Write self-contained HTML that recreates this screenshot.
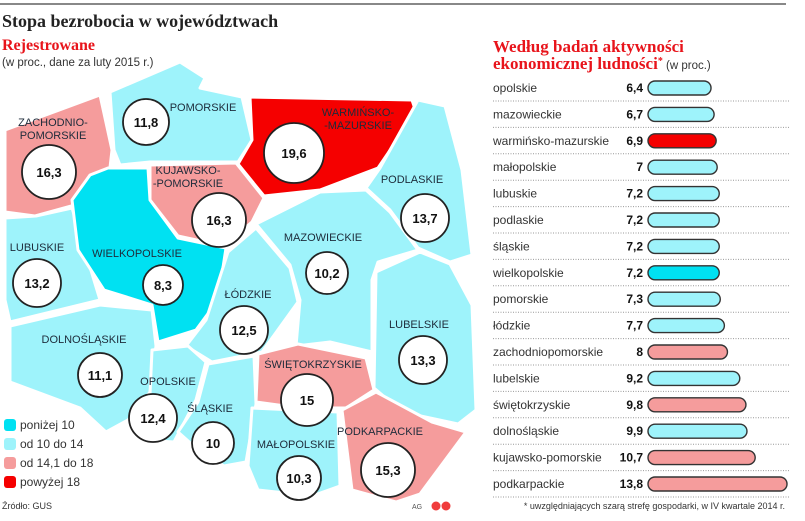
<!DOCTYPE html>
<html><head><meta charset="utf-8">
<style>
body{margin:0;background:#fff;}
#root{position:relative;width:805px;height:521px;overflow:hidden;font-family:"Liberation Sans",sans-serif;}
svg text{font-family:"Liberation Sans","DejaVu Sans",sans-serif;}
</style></head>
<body>
<div id="root">
<svg id="svg" width="805" height="521" xmlns="http://www.w3.org/2000/svg">
<line x1="0" y1="4" x2="786" y2="4" stroke="#888" stroke-width="2"/>
<text x="2" y="27" style="font-family:'Liberation Serif',serif" font-weight="bold" font-size="18" fill="#222">Stopa bezrobocia w województwach</text>
<text x="2" y="50" style="font-family:'Liberation Serif',serif" font-weight="bold" font-size="16" fill="#e8141b">Rejestrowane</text>
<text x="2" y="66" font-size="11.5" fill="#333">(w proc., dane za luty 2015 r.)</text>
<text x="493" y="52" style="font-family:'Liberation Serif',serif" font-weight="bold" font-size="17" fill="#e8141b">Według badań aktywności</text>
<text x="493" y="69" style="font-family:'Liberation Serif',serif" font-weight="bold" font-size="17" fill="#e8141b">ekonomicznej ludności<tspan font-size="10" dy="-5">*</tspan><tspan style="font-family:'Liberation Sans',sans-serif" font-weight="normal" font-size="11.5" fill="#333" dy="5"> (w proc.)</tspan></text>
<g id="map"></g>
<g id="bars"></g>
<g>
<rect x="4" y="419" width="12" height="12" rx="3" fill="#00e1f2"/>
<text x="20" y="429" font-size="12" fill="#333">poniżej 10</text>
<rect x="4" y="438" width="12" height="12" rx="3" fill="#9ef3fb"/>
<text x="20" y="448" font-size="12" fill="#333">od 10 do 14</text>
<rect x="4" y="457" width="12" height="12" rx="3" fill="#f59c9c"/>
<text x="20" y="467" font-size="12" fill="#333">od 14,1 do 18</text>
<rect x="4" y="476" width="12" height="12" rx="3" fill="#f50000"/>
<text x="20" y="486" font-size="12" fill="#333">powyżej 18</text>
</g>
<text x="2" y="509" font-size="9" fill="#333">Źródło: GUS</text>
<text x="412" y="509" font-size="7" fill="#555">AG</text>
<circle cx="436" cy="506" r="4.5" fill="#f03c3c"/>
<circle cx="446" cy="506" r="4.5" fill="#f03c3c"/>
<text x="785" y="509" text-anchor="end" font-size="9" fill="#333">* uwzględniających szarą strefę gospodarki, w IV kwartale 2014 r.</text>
</svg>
</div>
<script>
// ---- bar chart data ----
const barCategories=["opolskie","mazowieckie","warmińsko-mazurskie","małopolskie","lubuskie","podlaskie","śląskie","wielkopolskie","pomorskie","łódzkie","zachodniopomorskie","lubelskie","świętokrzyskie","dolnośląskie","kujawsko-pomorskie","podkarpackie"];
const barValues=[6.4,6.7,6.9,7,7.2,7.2,7.2,7.2,7.3,7.7,8,9.2,9.8,9.9,10.7,13.8];
const barLabels=["6,4","6,7","6,9","7","7,2","7,2","7,2","7,2","7,3","7,7","8","9,2","9,8","9,9","10,7","13,8"];
const barClass=[1,1,3,1,1,1,1,0,1,1,2,1,2,1,2,2];
// ---- map data ----
const mapRegions=["ZACHODNIO-|POMORSKIE","POMORSKIE","WARMIŃSKO-|-MAZURSKIE","KUJAWSKO-|-POMORSKIE","PODLASKIE","LUBUSKIE","WIELKOPOLSKIE","MAZOWIECKIE","ŁÓDZKIE","DOLNOŚLĄSKIE","LUBELSKIE","OPOLSKIE","ŚWIĘTOKRZYSKIE","ŚLĄSKIE","MAŁOPOLSKIE","PODKARPACKIE"];
const mapValues=[16.3,11.8,19.6,16.3,13.7,13.2,8.3,10.2,12.5,11.1,13.3,12.4,15,10,10.3,15.3];
const mapLabels=["16,3","11,8","19,6","16,3","13,7","13,2","8,3","10,2","12,5","11,1","13,3","12,4","15","10","10,3","15,3"];

const colors=["#00e1f2","#9ef3fb","#f59c9c","#f50000"];
function classOf(v){return v<10?0:v<=14?1:v<=18?2:3;}
const NS="http://www.w3.org/2000/svg";
function mk(tag,attrs,parent){const e=document.createElementNS(NS,tag);for(const k in attrs)e.setAttribute(k,attrs[k]);parent.appendChild(e);return e;}

const shapes=[
"5,130 100,95 112,150 108,185 75,205 35,216 5,212",
"110,92 180,62 205,78 200,88 242,97 252,140 238,162 150,162 120,165 114,150",
"250,97 412,100 416,112 378,168 320,190 264,196 238,164 252,140",
"150,165 236,163 264,198 252,222 224,246 178,236 150,200",
"418,100 445,106 462,170 472,255 450,262 418,248 390,210 366,188 380,168",
"5,218 36,216 72,208 100,300 10,322 5,300",
"108,168 148,168 150,200 178,238 226,248 218,300 196,330 158,342 152,305 104,290 78,250 72,200 90,175",
"256,224 320,192 366,190 390,212 418,250 378,262 372,280 372,352 330,342 296,346 300,300 290,265",
"228,252 256,228 290,268 298,302 262,352 212,362 186,346 206,320",
"10,326 100,305 152,310 156,346 150,392 128,420 106,432 80,408 10,382",
"376,272 420,252 450,264 472,305 476,410 458,424 402,412 374,388",
"152,350 188,346 206,362 196,400 174,442 142,440 128,422 150,394",
"258,354 298,344 366,358 374,390 346,408 300,408 256,402",
"208,364 254,356 256,404 246,462 224,466 196,448 178,432 198,402",
"252,408 338,412 340,486 312,496 258,490 248,466",
"342,410 376,392 432,422 466,432 420,494 396,502 352,490"];
const circ=[[49,172,27],[146,122,23],[294,153,30],[219,220,27],[425,218,24],[37,283,24],[163,285,20],[327,273,21],[244,330,24],[100,375,22],[423,360,24],[153,418,24],[307,400,26],[213,443,21],[299,478,22],[388,470,27]];
const lab=[[53,126],[203,111],[358,116],[188,174],[412,183],[37,251],[137,257],[323,241],[248,298],[84,343],[419,328],[168,385],[313,368],[210,412],[296,448],[380,435]];

const map=document.getElementById('map');
mapRegions.forEach((r,i)=>{
  const p=mk('polygon',{points:shapes[i],fill:colors[classOf(mapValues[i])],stroke:'#fff','stroke-width':3,'stroke-linejoin':'round'},map);
  
  
});
mapRegions.forEach((r,i)=>{
  const lines=r.split('|');
  lines.forEach((ln,j)=>{
    const t=mk('text',{x:lab[i][0],y:lab[i][1]+j*13,'text-anchor':'middle','font-size':11,fill:'#1d2b3a'},map);
    t.textContent=ln;
    
    
  });
  const c=mk('circle',{cx:circ[i][0],cy:circ[i][1],r:circ[i][2],fill:'#fff',stroke:'#222','stroke-width':1.8},map);
  
  
  const v=mk('text',{x:circ[i][0],y:circ[i][1]+5,'text-anchor':'middle','font-size':13,'font-weight':'bold',fill:'#111'},map);
  v.textContent=mapLabels[i];
  
  
});

const bars=document.getElementById('bars');
const y0=88,step=26.4,xb=648;
function xw(v){return 10.27*v-2.7;}
barCategories.forEach((c,i)=>{
  const y=y0+step*i;
  const t=mk('text',{x:493,y:y+4,'font-size':12,fill:'#333'},bars);
  t.textContent=c;
  
  
  const v=mk('text',{x:643,y:y+4,'text-anchor':'end','font-size':12,'font-weight':'bold',fill:'#111'},bars);
  v.textContent=barLabels[i];
  
  
  const r=mk('rect',{x:xb,y:y-7,width:xw(barValues[i]),height:14,rx:7,fill:colors[barClass[i]],stroke:'#333','stroke-width':1.4},bars);
  
  
  const l=mk('line',{x1:493,x2:790,y1:y+13,y2:y+13,stroke:'#999','stroke-width':1,'stroke-dasharray':'1,1.5'},bars);
  
  
});
</script>
</body></html>
